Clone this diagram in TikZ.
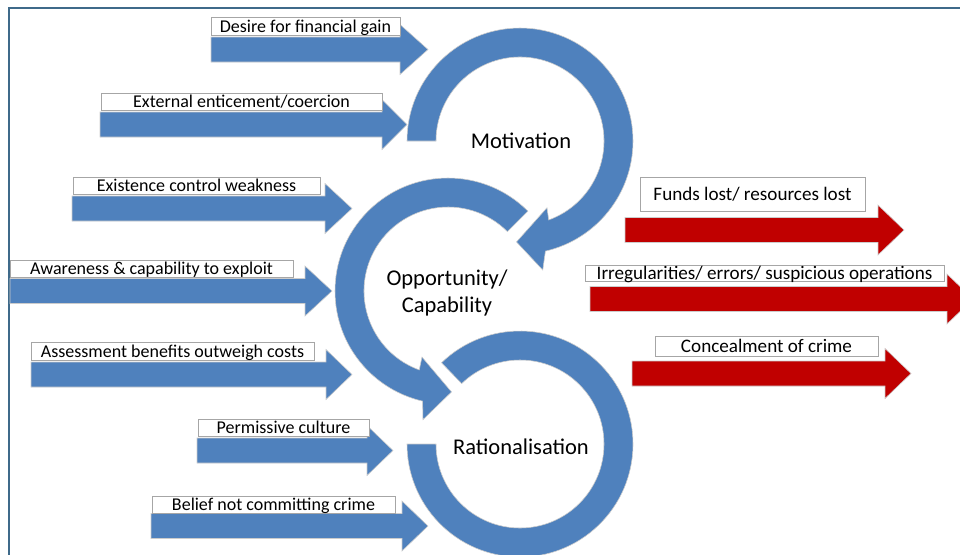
\documentclass[tikz,border=0pt]{standalone}
\usepackage{fontspec}
\setmainfont{Carlito}
\usepackage{tikz}
\usetikzlibrary{calc}

\definecolor{ringblue}{HTML}{4F81BD}
\definecolor{lossred}{HTML}{C00000}
\definecolor{framecol}{HTML}{3F6A8A}

\newlength\pxl
\setlength\pxl{0.025cm}

\newcommand{\blockarrow}[5]{%
  \filldraw[#1] (#2,#5-12.5) -- (#3,#5-12.5) -- (#3,#5-25) -- (#4,#5)
    -- (#3,#5+25) -- (#3,#5+12.5) -- (#2,#5+12.5) -- cycle;}

\begin{document}
\begin{tikzpicture}[x=0.025cm,y=-0.025cm,
    feed/.style={fill=ringblue,draw=black!20,line width=0.4pt},
    loss/.style={fill=lossred,draw=black!20,line width=0.4pt},
    ring/.style={fill=ringblue,draw=black!20,line width=0.4pt},
    lbl/.style={draw=black!35,fill=white,inner sep=0pt,text height=10pt,text depth=1.4pt,
      font=\fontsize{12.8}{14}\selectfont},
    rlbl/.style={lbl,font=\fontsize{13.6}{15}\selectfont},
    stage/.style={align=center,font=\fontsize{16}{18.5}\selectfont}]
  \useasboundingbox (0,0) rectangle (960,554);
  \clip (0,0) rectangle (960,554);
  \draw[framecol,line width=2\pxl] (9,600) -- (9,8) -- (1000,8);

  \blockarrow{feed}{211}{400}{428}{49.5}
  \blockarrow{feed}{100}{382}{407}{124.5}
  \blockarrow{feed}{72}{325}{352}{208.5}
  \blockarrow{feed}{10}{305}{332}{291}
  \blockarrow{feed}{31}{326}{352}{374.5}
  \blockarrow{feed}{197}{367}{393}{450.5}
  \blockarrow{feed}{151}{402}{428}{526}

  \blockarrow{loss}{625}{878}{904}{230}
  \blockarrow{loss}{590}{947}{973}{299}
  \blockarrow{loss}{632}{885}{911}{373.5}

  \coordinate (M) at (520,141);
  \coordinate (O) at (448,291);
  \coordinate (R) at (520,444);

  \filldraw[ring] ($(M)+(-180:113)$) arc[start angle=-180,end angle=77,radius=113]
    -- ($(M)+(80:131)$) -- ($(M)+(92:101)$) -- ($(M)+(68:72)$) -- ($(M)+(70:84)$)
    arc[start angle=70,end angle=-180,radius=84] -- cycle;
  \filldraw[ring] ($(O)+(-45:113)$) arc[start angle=-45,end angle=-257,radius=113]
    -- ($(O)+(-259:131)$) -- ($(O)+(-272:101)$) -- ($(O)+(-248.5:71)$) -- ($(O)+(-250:84)$)
    arc[start angle=-250,end angle=-45,radius=84] -- cycle;
  \filldraw[ring] ($(R)+(-134:113)$) arc[start angle=-134,end angle=180,radius=113]
    -- ($(R)+(180:84)$) arc[start angle=180,end angle=-134,radius=84] -- cycle;

  \node[stage] (mot) at (521,141) {Motivation};
  \node[stage] (opp) at (447,293) {Opportunity/\\Capability};
  \node[stage] (rat) at (521,447) {Rationalisation};

  \node[lbl,minimum width=189\pxl,minimum height=18\pxl] (desire) at (305.5,26) {Desire for financial gain};
  \node[lbl,minimum width=281\pxl,minimum height=17\pxl] (coerce) at (241.5,101.5) {External enticement/coercion};
  \node[lbl,minimum width=247\pxl,minimum height=17\pxl] (weak) at (196.5,185.5) {Existence control weakness};
  \node[lbl,minimum width=283\pxl,minimum height=17\pxl] (aware) at (151.5,268.5) {Awareness \& capability to exploit};
  \node[lbl,minimum width=283\pxl,minimum height=18\pxl] (assess) at (172.5,351) {Assessment benefits outweigh costs};
  \node[lbl,minimum width=171\pxl,minimum height=17\pxl] (culture) at (283.5,427.5) {Permissive culture};
  \node[lbl,minimum width=243\pxl,minimum height=17\pxl] (belief) at (273.5,504.5) {Belief not committing crime};

  \node[rlbl,minimum width=225\pxl,minimum height=34\pxl] (funds) at (752.5,194) {Funds lost/ resources lost};
  \node[rlbl,minimum width=359\pxl,minimum height=15\pxl] (irreg) at (764.5,273.5) {Irregularities/ errors/ suspicious operations};
  \node[rlbl,minimum width=223\pxl,minimum height=20\pxl] (conceal) at (766.5,346) {Concealment of crime};
\end{tikzpicture}
\end{document}
